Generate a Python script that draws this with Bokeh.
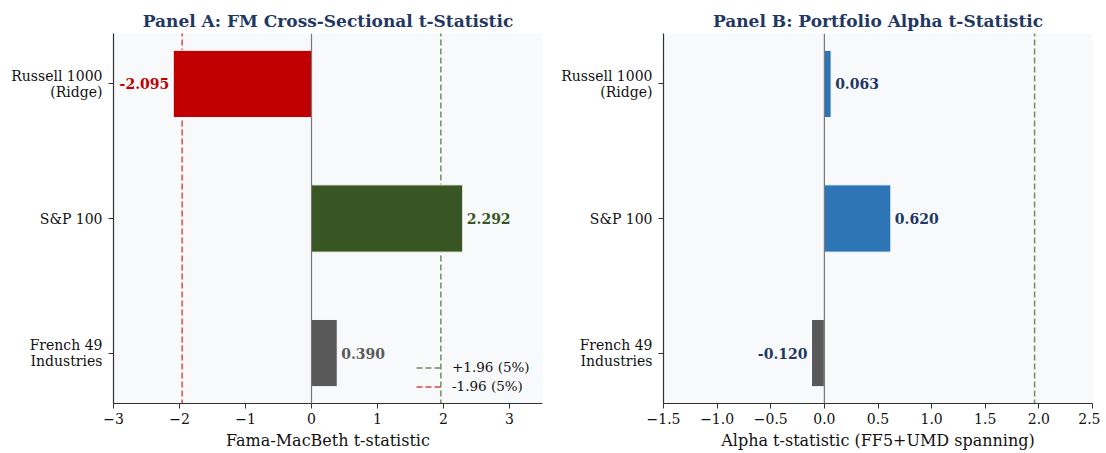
from bokeh.plotting import figure
from bokeh.layouts import row
from bokeh.models import Range1d, FixedTicker, ColumnDataSource, Span
from bokeh.embed import file_html
from bokeh.resources import INLINE

# ---- data ----
universes = ["Russell 1000\n(Ridge)", "S&P 100", "French 49\nIndustries"]
fm_tstat = [-2.095, 2.292, 0.390]
alpha_tstat = [0.063, 0.620, -0.120]
fm_colors = ["#c00000", "#375623", "#595959"]
alpha_colors = ["#2e75b6", "#2e75b6", "#595959"]
crit = 1.96
xticks_a = [-3, -2, -1, 0, 1, 2, 3]
xticks_b = [-1.5, -1.0, -0.5, 0.0, 0.5, 1.0, 1.5, 2.0, 2.5]

FONT = "DejaVu Serif"
NAVY = "#1f3864"
BG = "#f8f9fb"


def fmt_tick(v, dec):
    s = f"{abs(v):.{dec}f}"
    return ("\u2212" + s) if v < 0 else s


def make_panel(title, values, colors, label_colors, xr, xticks, dec, xlabel,
               left_border, right_border, lines):
    p = figure(width=left_border + 429 + right_border, height=445,
               frame_width=429, frame_height=370,
               output_backend="svg", toolbar_location=None,
               x_range=Range1d(*xr), y_range=Range1d(2.375, -0.375),
               min_border_left=left_border, min_border_right=right_border,
               min_border_top=33, min_border_bottom=42,
               background_fill_color=BG, border_fill_color="white")
    p.outline_line_color = None
    p.xgrid.visible = False
    p.ygrid.visible = False

    p.title.text = title
    p.title.align = "center"
    p.title.text_font = FONT
    p.title.text_font_style = "bold"
    p.title.text_font_size = "17px"
    p.title.text_color = NAVY
    p.title.standoff = 5

    ys = list(range(len(values)))

    # zero line
    p.add_layout(Span(location=0, dimension="height", line_color="#777777",
                      line_width=1.2))

    # reference lines
    for x, col, lab in lines:
        kw = dict(x0=[x], y0=[-1], x1=[x], y1=[3], line_color=col,
                  line_width=1.5, line_dash="6 3")
        if lab:
            kw["legend_label"] = lab
        p.segment(**kw)

    src = ColumnDataSource(dict(y=ys, right=values, color=colors))
    p.hbar(y="y", left=0, right="right", height=0.5, fill_color="color",
           line_color="white", line_width=1, source=src)

    pos = [i for i, v in enumerate(values) if v >= 0]
    neg = [i for i, v in enumerate(values) if v < 0]
    for idx, align, off in ((pos, "left", 4), (neg, "right", -4)):
        if not idx:
            continue
        s = ColumnDataSource(dict(x=[values[i] for i in idx], y=[ys[i] for i in idx],
                                  t=[f"{values[i]:.3f}" for i in idx],
                                  c=[label_colors[i] for i in idx]))
        p.text(x="x", y="y", text="t", text_color="c", source=s,
               text_font={"value": FONT}, text_font_style="bold",
               text_font_size="14px", text_align=align,
               text_baseline="middle", x_offset=off)

    # axes
    p.xaxis.ticker = FixedTicker(ticks=xticks)
    p.xaxis.major_label_overrides = {t: fmt_tick(t, dec) for t in xticks}
    p.yaxis.ticker = FixedTicker(ticks=ys)
    p.yaxis.major_label_overrides = {i: u for i, u in enumerate(universes)}
    p.xaxis.axis_label = xlabel
    for ax in (p.xaxis, p.yaxis):
        ax.axis_line_color = "#333333"
        ax.axis_line_width = 1.2
        ax.major_tick_line_color = "#333333"
        ax.major_tick_out = 5
        ax.major_tick_in = 0
        ax.minor_tick_line_color = None
        ax.major_label_text_font = FONT
        ax.major_label_text_font_size = "14px"
        ax.major_label_text_color = "#111111"
        ax.axis_label_text_font = FONT
        ax.axis_label_text_font_size = "16px"
        ax.axis_label_text_font_style = "normal"
        ax.axis_label_text_color = "#111111"
    p.xaxis.axis_label_standoff = 4
    p.xaxis.major_label_standoff = 4
    p.yaxis.major_label_standoff = 6
    p.yaxis.major_label_text_align = "right"
    p.yaxis.major_label_text_line_height = 1.05
    return p


pa = make_panel("Panel A: FM Cross-Sectional t-Statistic", fm_tstat, fm_colors,
                fm_colors, (-3, 3.5), xticks_a, 0, "Fama-MacBeth t-statistic",
                113, 16,
                [(crit, "#6b8f5e", "+1.96 (5%)"), (-crit, "#d94a4a", "-1.96 (5%)")])
pa.legend.location = (303, 9)
pa.legend.background_fill_alpha = 0
pa.legend.border_line_color = None
pa.legend.label_text_font = FONT
pa.legend.label_text_font_size = "13.5px"
pa.legend.label_text_color = "#111111"
pa.legend.glyph_width = 26
pa.legend.label_height = 13
pa.legend.glyph_height = 13
pa.legend.label_standoff = 10
pa.legend.spacing = 3
pa.legend.padding = 4
pa.legend.margin = 0

pb = make_panel("Panel B: Portfolio Alpha t-Statistic", alpha_tstat, alpha_colors,
                [NAVY, NAVY, NAVY], (-1.5, 2.5), xticks_b, 1,
                "Alpha t-statistic (FF5+UMD spanning)", 101, 8,
                [(crit, "#6b8f5e", None)])

layout = row(pa, pb)
open("out.html", "w").write(file_html(layout, INLINE))
